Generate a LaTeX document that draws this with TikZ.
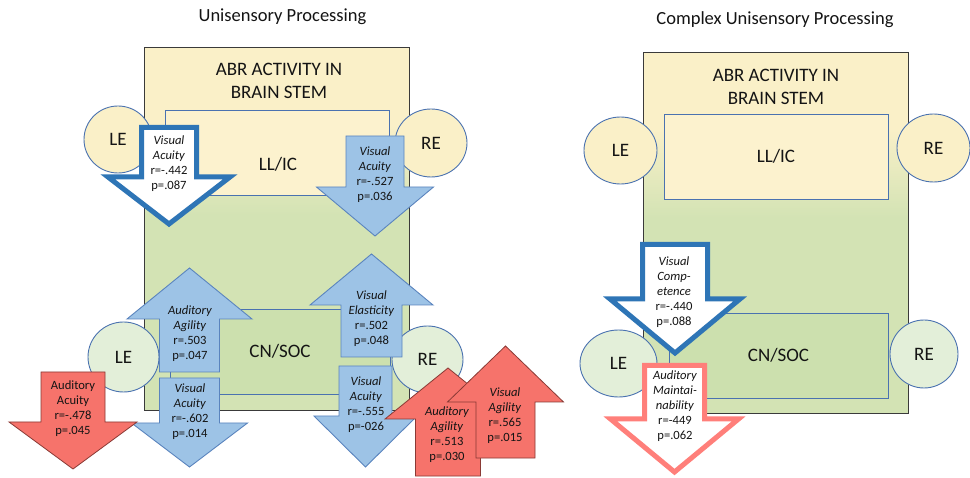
\documentclass[tikz,border=0pt]{standalone}
\usepackage{fontspec}
\setmainfont{Carlito}
\usetikzlibrary{shapes.geometric}
\definecolor{cream}{HTML}{FAF0C8}
\definecolor{creamin}{HTML}{FCF2CE}
\definecolor{boxgreen}{HTML}{D3E3B4}
\definecolor{socgreen}{HTML}{CCE0AE}
\definecolor{circgreen}{HTML}{E3EFD9}
\definecolor{lineblue}{HTML}{4A72B0}
\definecolor{arrowblue}{HTML}{9DC3E6}
\definecolor{arrowblueline}{HTML}{5A84BE}
\definecolor{thickblue}{HTML}{2E75B6}
\definecolor{arrowred}{HTML}{F6736B}
\definecolor{arrowredline}{HTML}{8A3A35}
\definecolor{salmon}{HTML}{FF7F7A}
\definecolor{txt}{HTML}{141414}
\definecolor{outerline}{HTML}{3A3A3A}
% #1 style, #2 cx, #3 shaft half width, #4 shaft end y, #5 head base y, #6 head half width, #7 tip y
\newcommand\blockarrow[7]{\draw[#1] ({#2-#3},#4) -- ({#2+#3},#4) -- ({#2+#3},#5) -- ({#2+#6},#5) -- (#2,#7) -- ({#2-#6},#5) -- ({#2-#3},#5) -- cycle;}
\begin{document}
\begin{tikzpicture}[x=1pt,y=-1pt,
  bigtext/.style={font=\fontsize{19}{23}\selectfont, text=txt, inner sep=0pt, align=center},
  titletext/.style={font=\fontsize{18.5}{22}\selectfont, text=txt, inner sep=0pt},
  arrowtext/.style={font=\fontsize{12.6}{15}\selectfont, text=txt, inner sep=0pt, align=center},
  innerbox/.style={draw=lineblue, line width=0.9pt, rectangle, inner sep=0pt},
  eye/.style={ellipse, draw=lineblue, line width=0.9pt, inner sep=0pt, font=\fontsize{19}{23}\selectfont, text=txt},
  bluearrow/.style={fill=arrowblue, draw=arrowblueline, line width=0.9pt, line join=miter},
  redarrow/.style={fill=arrowred, draw=arrowredline, line width=0.8pt, line join=miter},
  whiteblue/.style={fill=white, draw=thickblue, line width=5pt, line join=miter},
  whitesalmon/.style={fill=white, draw=salmon, line width=5pt, line join=miter}]
\useasboundingbox (0,0) rectangle (970,478);
\fill[white] (0,0) rectangle (970,478);

% ---------- outer boxes ----------
\fill[boxgreen] (144,47) rectangle (409,410);
\shade[top color=cream, bottom color=boxgreen] (144,125) rectangle (409,215);
\fill[cream] (144,47) rectangle (409,125.5);
\node[draw=outerline, line width=0.8pt, rectangle, minimum width=265pt, minimum height=363pt, inner sep=0pt] (outerL) at (276.5,228.5) {};

\fill[boxgreen] (643,52) rectangle (908,413);
\shade[top color=cream, bottom color=boxgreen] (643,128) rectangle (908,218);
\fill[cream] (643,52) rectangle (908,128.5);
\node[draw=outerline, line width=0.8pt, rectangle, minimum width=265pt, minimum height=361pt, inner sep=0pt] (outerR) at (775.5,232.5) {};

% ---------- titles ----------
\node[titletext] (titleL) at (282.5,17) {Unisensory Processing};
\node[titletext] (titleR) at (775,20) {Complex Unisensory Processing};
\node[bigtext] (abrL) at (279,80.5) {ABR ACTIVITY IN\\BRAIN STEM};
\node[bigtext] (abrR) at (776,87) {ABR ACTIVITY IN\\BRAIN STEM};

% ---------- inner boxes ----------
\node[innerbox, fill=creamin, minimum width=224pt, minimum height=85pt] (llicL) at (277,152.5) {};
\node[bigtext] (llicLlab) at (278,164) {LL/IC};
\node[innerbox, fill=socgreen, minimum width=220pt, minimum height=85pt, bigtext] (socL) at (280,351.5) {CN/SOC};

\node[innerbox, fill=creamin, minimum width=224pt, minimum height=85pt, bigtext] (llicR) at (776,156.5) {LL/IC};
\node[innerbox, fill=socgreen, minimum width=219pt, minimum height=85pt, bigtext] (socR) at (778.5,355.5) {CN/SOC};

% ---------- ears ----------
\node[eye, fill=cream, minimum width=68pt, minimum height=67pt] (leL1) at (118,139.5) {LE};
\node[eye, fill=cream, minimum width=72pt, minimum height=68pt] (reL1) at (431,143) {RE};
\node[eye, fill=circgreen, minimum width=71pt, minimum height=70pt] (leL2) at (123.5,357) {LE};
\node[eye, fill=circgreen, minimum width=71pt, minimum height=67pt] (reL2) at (427.5,359.5) {RE};

\node[eye, fill=cream, minimum width=73pt, minimum height=67pt] (leR1) at (620.5,150.5) {LE};
\node[eye, fill=cream, minimum width=73pt, minimum height=68pt] (reR1) at (933.5,148) {RE};
\node[eye, fill=circgreen, minimum width=77pt, minimum height=67pt] (leR2) at (618.5,363.5) {LE};
\node[eye, fill=circgreen, minimum width=68pt, minimum height=68pt] (reR2) at (924,354) {RE};

% ---------- arrows, left panel ----------
\blockarrow{whiteblue}{169}{27.5}{127.5}{177}{61}{224}
\node[arrowtext] (t1) at (169,164) {\textit{Visual}\\\textit{Acuity}\\r=-.442\\p=.087};

\blockarrow{bluearrow}{375}{29}{136}{187}{58.5}{236}
\node[arrowtext] (t2) at (375,174.5) {\textit{Visual}\\\textit{Acuity}\\r=-.527\\p=.036};

\blockarrow{bluearrow}{189.5}{30}{372}{319}{62.5}{268}
\node[arrowtext] (t3) at (190,333.5) {\textit{Auditory}\\\textit{Agility}\\r=.503\\p=.047};

\blockarrow{bluearrow}{189.5}{30}{378}{423}{58}{467}
\node[arrowtext] (t4) at (190,412) {\textit{Visual}\\\textit{Acuity}\\r=-.602\\p=.014};

\blockarrow{redarrow}{73}{32}{372}{422}{64}{469}
\node[arrowtext] (t5) at (73,408.5) {Auditory\\Acuity\\r=-.478\\p=.045};

\blockarrow{bluearrow}{371.5}{30.5}{357}{305}{61.5}{254}
\node[arrowtext] (t6) at (371.5,318.5) {\textit{Visual}\\\textit{Elasticity}\\r=.502\\p=.048};

\blockarrow{bluearrow}{365.5}{26.5}{366}{416}{51.5}{467}
\node[arrowtext] (t7) at (366,404.5) {\textit{Visual}\\\textit{Acuity}\\r=-.555\\p=-026};

\blockarrow{redarrow}{448}{32.5}{476}{419}{63}{368}
\node[arrowtext] (t8) at (447,434.5) {\textit{Auditory}\\\textit{Agility}\\r=.513\\p=.030};

\blockarrow{redarrow}{505.5}{29.5}{458}{402}{58}{346}
\node[arrowtext] (t9) at (505,415.5) {\textit{Visual}\\\textit{Agility}\\r=.565\\p=.015};

% ---------- arrows, right panel ----------
\blockarrow{whiteblue}{675}{32.5}{244.5}{299}{65}{353}
\node[arrowtext] (t10) at (674,292) {\textit{Visual}\\\textit{Comp-}\\\textit{etence}\\r=-.440\\p=.088};

\blockarrow{whitesalmon}{674.5}{30}{365.5}{419}{64}{472}
\node[arrowtext] (t11) at (675,406) {\textit{Auditory}\\\textit{Maintai-}\\\textit{nability}\\r=-449\\p=.062};
\end{tikzpicture}
\end{document}
